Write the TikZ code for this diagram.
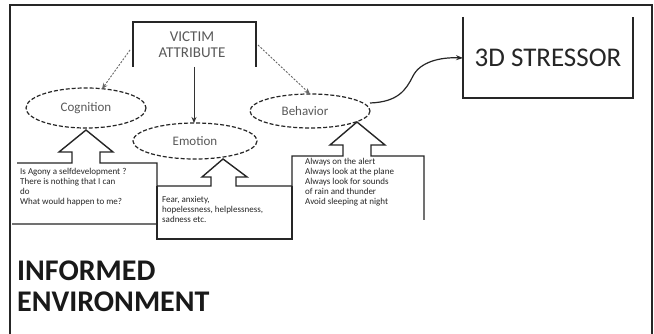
\documentclass[tikz,border=0pt]{standalone}
\usepackage{fontspec}
\setmainfont{Carlito}
\usetikzlibrary{arrows.meta}
\tikzset{
  line/.style={draw=black!85, line width=1.4pt},
  oval/.style={draw=black!85, line width=1.2pt, dash pattern=on 4pt off 2pt},
  ovaltext/.style={text=black!65, font=\fontsize{13}{15}\selectfont},
  small/.style={align=left, anchor=north west, inner sep=0pt, text=black!85, font=\fontsize{9}{10}\selectfont},
  dotarrow/.style={draw=black!60, line width=0.9pt, dash pattern=on 2pt off 1.5pt, -{Stealth[length=6pt,width=5pt]}},
  solidarrow/.style={draw=black!80, line width=1pt, -{Stealth[length=6pt,width=5pt]}}
}
\begin{document}
\begin{tikzpicture}[x=1pt,y=-1pt]
\useasboundingbox (0,0) rectangle (654,334);
\fill[white] (0,0) rectangle (654,334);
% outer frame
\draw[line] (10,334) -- (10,5) -- (652,5) -- (652,334);

% victim attribute box
\draw[line] (133,67) -- (133,22) -- (256,22) -- (256,67);
\node[text=black!65, align=center, font=\fontsize{15}{16}\selectfont] (victim) at (192,45) {VICTIM\\ATTRIBUTE};
\coordinate (vl) at (130,50);
\coordinate (vr) at (258,45);
\coordinate (vb) at (194,67);

% ellipses
\draw[oval] (86,108) ellipse [x radius=60, y radius=20];
\node[ovaltext] (cog) at (86,108) {Cognition};
\coordinate (cogtop) at (102,89);
\draw[oval] (195,141) ellipse [x radius=62, y radius=18];
\node[ovaltext] (emo) at (195,141) {Emotion};
\coordinate (emotop) at (194,123);
\draw[oval] (310,111) ellipse [x radius=60, y radius=17];
\node[ovaltext] (beh) at (305,111) {Behavior};
\coordinate (behtop) at (310,94);
\coordinate (behright) at (370,103);

% arrows from victim attribute
\draw[dotarrow] (vl) -- (cogtop);
\draw[dotarrow] (vr) -- (behtop);
\draw[solidarrow] (vb) -- (emotop);

% 3D stressor
\draw[line] (463,17) -- (463,98) -- (633,98) -- (633,17);
\node[text=black!85, font=\fontsize{27}{30}\selectfont] (stress) at (548,58) {3D STRESSOR};
\coordinate (sl) at (463,58);
\draw[draw=black!85, line width=1.2pt, -{Stealth[length=7pt,width=5pt]}] (behright) .. controls (398,102) and (406,90) .. (413,76) .. controls (420,62) and (440,57) .. (sl);

% cognition callout
\draw[line] (17,163) -- (72,163) -- (72,152) -- (59,152) -- (86,130) -- (113,152) -- (100,152) -- (100,163) -- (157,163) -- (157,224) -- (12,224);
\node[small] (cogtext) at (20,168) {Is Agony a selfdevelopment ?\\There is nothing that I can\\do\\What would happen to me?};

% emotion callout
\draw[line] (157,186) -- (211,186) -- (211,177) -- (202,177) -- (223,159) -- (247,177) -- (236,177) -- (236,186) -- (292,186);
\draw[line] (157,186) -- (157,239) -- (292,239) -- (292,186);
\node[small] (emotext) at (162,196) {Fear, anxiety,\\hopelessness, helplessness,\\sadness etc.};

% behavior callout
\draw[line] (292,239) -- (292,156) -- (343,156) -- (343,145) -- (330,145) -- (357,122) -- (385,145) -- (371,145) -- (371,156) -- (424,156) -- (424,220);
\node[small] (behtext) at (305,158) {Always on the alert\\Always look at the plane\\Always look for sounds\\of rain and thunder\\Avoid sleeping at night};

% informed environment
\node[anchor=north west, inner sep=0pt, align=left, text=black!90, font=\bfseries\fontsize{30}{31}\selectfont] (env) at (17,261) {INFORMED\\ENVIRONMENT};
\end{tikzpicture}
\end{document}
